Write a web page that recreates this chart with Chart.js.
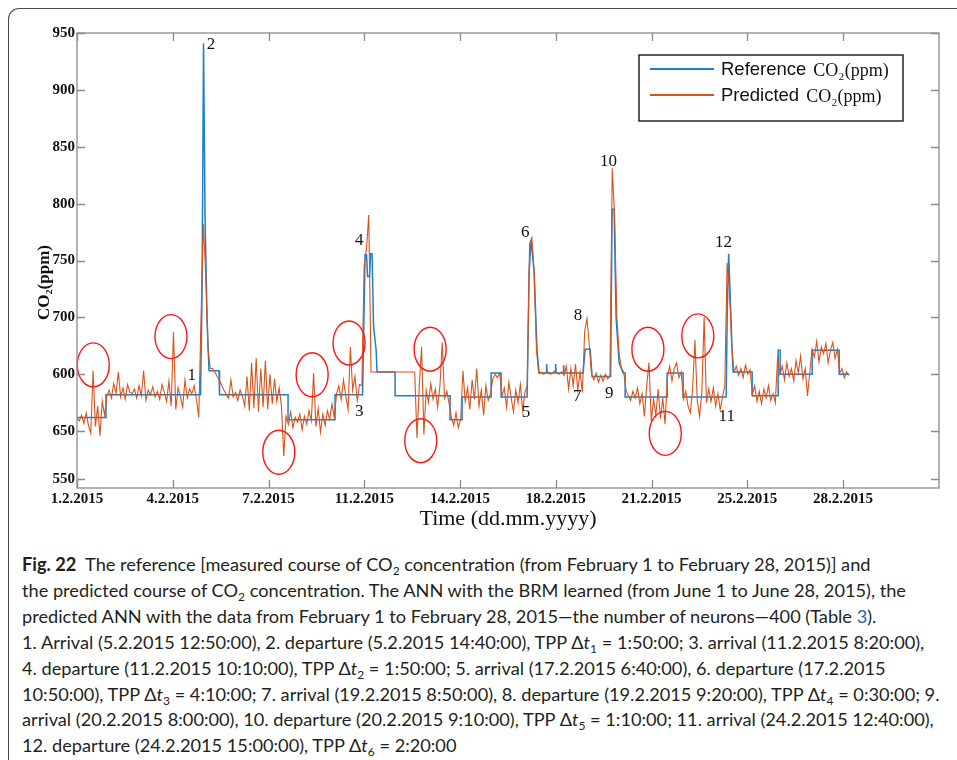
<!DOCTYPE html>
<html>
<head>
<meta charset="utf-8">
<script src="https://cdn.jsdelivr.net/npm/chart.js@4.4.1/dist/chart.umd.min.js"></script>
<style>
  html, body { margin: 0; padding: 0; background: #fff; }
  body { width: 957px; height: 760px; position: relative; overflow: hidden; }
  #frame {
    position: absolute; left: 8px; top: 8px; width: 1000px; height: 800px;
    border-left: 1.5px solid #4a4a4a; border-top: 1.5px solid #4a4a4a;
    border-top-left-radius: 11px;
  }
  #wrap { position: absolute; left: 0; top: 0; width: 957px; height: 540px; }
  #caption {
    position: absolute; left: 22px; top: 552px;
    font-family: Lato, "Open Sans", sans-serif; font-size: 18.2px; line-height: 25.9px;
    color: #231f20; white-space: nowrap;
  }
  #caption b { font-weight: 700; }
  #caption i { font-weight: 400; }
  #caption sub { font-size: 12px; line-height: 0; vertical-align: -4px; }
  #caption .ref { color: #1d64b4; }
</style>
</head>
<body>
<div id="frame"></div>
<div id="wrap"><canvas id="chart"></canvas></div>
<div id="caption">
<b>Fig. 22</b>&nbsp; The reference [measured course of CO<sub>2</sub> concentration (from February 1 to February 28, 2015)] and<br>
the predicted course of CO<sub>2</sub> concentration. The ANN with the BRM learned (from June 1 to June 28, 2015), the<br>
predicted ANN with the data from February 1 to February 28, 2015—the number of neurons—400 (Table <span class="ref">3</span>).<br>
1. Arrival (5.2.2015 12:50:00), 2. departure (5.2.2015 14:40:00), TPP Δ<i>t</i><sub>1</sub> = 1:50:00; 3. arrival (11.2.2015 8:20:00),<br>
4. departure (11.2.2015 10:10:00), TPP Δ<i>t</i><sub>2</sub> = 1:50:00; 5. arrival (17.2.2015 6:40:00), 6. departure (17.2.2015<br>
10:50:00), TPP Δ<i>t</i><sub>3</sub> = 4:10:00; 7. arrival (19.2.2015 8:50:00), 8. departure (19.2.2015 9:20:00), TPP Δ<i>t</i><sub>4</sub> = 0:30:00; 9.<br>
arrival (20.2.2015 8:00:00), 10. departure (20.2.2015 9:10:00), TPP Δ<i>t</i><sub>5</sub> = 1:10:00; 11. arrival (24.2.2015 12:40:00),<br>
12. departure (24.2.2015 15:00:00), TPP Δ<i>t</i><sub>6</sub> = 2:20:00
</div>
<script>
// time axis is in days since 1.2.2015 00:00
const xTickVals = [0, 3.474, 6.948, 10.422, 13.896, 17.37, 20.844, 24.318, 27.792];
const xTickText = ['1.2.2015', '4.2.2015', '7.2.2015', '11.2.2015', '14.2.2015', '18.2.2015', '21.2.2015', '25.2.2015', '28.2.2015'];
const xMax = 31.27;

// the printed figure has 600 and 650 swapped, kept as printed
const yTickVals = [558, 600, 650, 700, 750, 800, 850, 900, 950];
const yTickText = ['550', '650', '600', '700', '750', '800', '850', '900', '950'];

// reference CO2 (mostly steps), corner points
const refX = [0, 1.052, 1.052, 4.481, 4.536, 4.590, 4.644, 4.717, 4.790, 5.152, 5.171,
  7.656, 7.656, 9.361, 9.361, 10.359, 10.450, 10.504, 10.541, 10.613, 10.650, 10.704,
  10.758, 10.849, 10.885, 11.538, 11.538, 13.534, 13.534, 13.970, 13.970, 15.022, 15.022,
  15.385, 15.385, 16.328, 16.401, 16.473, 16.582, 16.691, 16.763, 17.017, 17.035, 17.054,
  17.344, 17.362, 17.380, 17.634, 17.652, 17.670, 18.360, 18.433, 18.614, 18.687, 19.358,
  19.412, 19.485, 19.557, 19.666, 19.811, 19.884, 19.884, 21.408, 21.408, 21.988, 21.988,
  23.549, 23.585, 23.639, 23.694, 23.766, 23.803, 24.492, 24.492, 25.435, 25.435, 25.508,
  25.508, 26.669, 26.669, 27.649, 27.649, 28.012];
const refY = [612, 612, 632, 632, 720, 941, 790, 700, 653, 653, 632,
  632, 610, 610, 632, 632, 755, 755, 736, 736, 756, 756,
  692, 672, 652, 652, 631, 631, 610, 610, 630, 630, 651,
  651, 630, 630, 740, 768, 740, 670, 651, 651, 659, 651,
  651, 659, 651, 651, 658, 651, 651, 672, 672, 648, 648,
  795, 795, 700, 660, 651, 651, 630, 630, 651, 651, 630,
  630, 700, 756, 720, 670, 652, 652, 631, 631, 671, 671,
  650, 650, 671, 671, 650, 650];

// predicted CO2, one value every 2 hours, one row per day
const predStep = 1 / 12;
const predY = [
  612, 609, 614, 607, 616, 605, 598, 653, 604, 622, 596, 626,
  614, 631, 636, 629, 642, 633, 652, 630, 638, 628, 641, 634,
  633, 637, 629, 640, 631, 653, 627, 636, 632, 639, 630, 635,
  628, 641, 634, 626, 644, 622, 687, 619, 638, 630, 621, 645,
  629, 637, 633, 640, 628, 612, 700, 782, 740, 672, 655, 655,
  652, 648, 645, 640, 636, 632, 629, 645, 630, 634, 627, 636,
  631, 622, 648, 618, 660, 620, 664, 617, 655, 621, 662, 619,
  650, 624, 646, 626, 638, 622, 578, 613, 606, 617, 603, 612,
  608, 615, 601, 613, 606, 618, 609, 651, 604, 620, 599, 615,
  605, 618, 610, 624, 612, 633, 640, 628, 645, 631, 619, 674,
  636, 648, 627, 641, 640, 745, 760, 790, 652, 652, 652, 652,
  652, 652, 652, 652, 652, 652, 652, 652, 652, 652, 652, 652,
  652, 652, 652, 652, 594, 640, 674, 597, 636, 625, 642, 628,
  637, 621, 640, 678, 629, 635, 624, 612, 605, 616, 603, 610,
  653, 626, 638, 619, 645, 628, 655, 622, 636, 614, 640, 627,
  633, 646, 650, 647, 651, 631, 638, 621, 643, 629, 617, 636,
  625, 641, 618, 634, 640, 765, 770, 740, 672, 651, 652, 650,
  651, 652, 650, 651, 653, 651, 650, 652, 649, 657, 637, 655,
  640, 659, 636, 652, 634, 688, 699, 676, 650, 645, 651, 643,
  649, 644, 650, 646, 648, 831, 790, 700, 668, 655, 652, 636,
  631, 627, 635, 629, 638, 624, 633, 613, 640, 660, 609, 628,
  614, 637, 611, 629, 606, 648, 657, 644, 655, 660, 647, 652,
  628, 635, 622, 616, 638, 680, 627, 613, 634, 700, 625, 637,
  626, 638, 622, 633, 619, 630, 640, 748, 725, 675, 652, 657,
  649, 655, 647, 658, 650, 654, 632, 640, 626, 635, 624, 637,
  629, 640, 627, 633, 625, 666, 650, 657, 645, 660, 648, 655,
  644, 662, 651, 666, 646, 655, 631, 652, 672, 665, 679, 661,
  674, 668, 677, 660, 671, 678, 664, 672, 651, 655, 647, 652,
  649
];

// numbered events (arrival / departure) as printed
const eventText = ['1', '2', '3', '4', '5', '6', '7', '8', '9', '10', '11', '12'];
const eventX = [4.16, 4.86, 10.24, 10.24, 16.29, 16.26, 18.15, 18.17, 19.31, 19.28, 23.57, 23.45];
const eventY = [648.6, 939.5, 617.3, 767.9, 616.5, 774.3, 630.2, 701.2, 633.1, 837.1, 612.6, 765.6];

// red circles round the outliers
const circleX = [0.59, 3.41, 7.32, 8.53, 9.87, 12.81, 12.47, 20.71, 21.34, 22.52];
const circleY = [658.2, 683.1, 581.4, 649.5, 677.5, 672.0, 591.6, 672.0, 598.0, 683.7];

const seriesNames = ['Reference', 'Predicted'];
const unitText = 'CO\u2082(ppm)';
const yTitle = 'CO\u2082(ppm)';
const xTitle = 'Time (dd.mm.yyyy)';

const blue = '#1f7fc9';
const orange = '#d9531a';
const serif = '"Liberation Serif", "Times New Roman", serif';
const sans = '"Liberation Sans", Arial, sans-serif';

const refData = refX.map((x, i) => ({ x: x, y: refY[i] }));
const predData = predY.map((v, i) => ({ x: i * predStep, y: v }));

// box with inward ticks, annotations, legend and y title
const figureExtras = {
    id: 'figureExtras',
    afterDatasetsDraw(chart) {
        const { ctx, chartArea: a, scales } = chart;
        const sx = scales.x;
        const sy = scales.y;
        ctx.save();

        ctx.strokeStyle = '#ff1414';
        ctx.lineWidth = 1.4;
        circleX.forEach((d, i) => {
            ctx.beginPath();
            ctx.ellipse(sx.getPixelForValue(d), sy.getPixelForValue(circleY[i]), 16, 22, 0, 0, Math.PI * 2);
            ctx.stroke();
        });

        ctx.fillStyle = '#111';
        ctx.font = '17px ' + serif;
        ctx.textAlign = 'center';
        ctx.textBaseline = 'middle';
        eventText.forEach((t, i) => {
            ctx.fillText(t, sx.getPixelForValue(eventX[i]), sy.getPixelForValue(eventY[i]));
        });

        // axes box
        ctx.strokeStyle = '#8a8a8a';
        ctx.lineWidth = 1.3;
        ctx.strokeRect(a.left, a.top, a.width, a.height);
        ctx.beginPath();
        sx.ticks.forEach((t) => {
            const px = Math.round(sx.getPixelForValue(t.value)) + 0.5;
            ctx.moveTo(px, a.bottom); ctx.lineTo(px, a.bottom - 8);
            ctx.moveTo(px, a.top); ctx.lineTo(px, a.top + 8);
        });
        sy.ticks.forEach((t) => {
            const py = Math.round(sy.getPixelForValue(t.value)) + 0.5;
            ctx.moveTo(a.left, py); ctx.lineTo(a.left + 8, py);
            ctx.moveTo(a.right, py); ctx.lineTo(a.right - 8, py);
        });
        ctx.stroke();

        // legend
        const lx = a.right - 300;
        const ly = a.top + 22;
        ctx.fillStyle = '#fff';
        ctx.fillRect(lx, ly, 264, 66);
        ctx.strokeStyle = '#262626';
        ctx.lineWidth = 1.5;
        ctx.strokeRect(lx, ly, 264, 66);
        chart.data.datasets.forEach((ds, i) => {
            const rowY = ly + 14 + i * 26;
            ctx.strokeStyle = ds.borderColor;
            ctx.lineWidth = 2;
            ctx.beginPath();
            ctx.moveTo(lx + 11, rowY);
            ctx.lineTo(lx + 75, rowY);
            ctx.stroke();
            ctx.fillStyle = '#111';
            ctx.textAlign = 'left';
            ctx.font = '18.5px ' + sans;
            ctx.fillText(ds.label, lx + 82, rowY + 1);
            const w = ctx.measureText(ds.label).width;
            ctx.font = '18px ' + serif;
            ctx.fillText(unitText, lx + 82 + w + 7, rowY + 2);
        });

        // y title, printed slightly below centre
        ctx.fillStyle = '#111';
        ctx.font = 'bold 17px ' + serif;
        ctx.textAlign = 'center';
        ctx.translate(45, (a.top + a.bottom) / 2 + 22);
        ctx.rotate(-Math.PI / 2);
        ctx.fillText(yTitle, 0, 0);

        ctx.restore();
    }
};

new Chart(document.getElementById('chart'), {
    type: 'line',
    data: {
        datasets: [
            {
                label: seriesNames[0],
                data: refData,
                borderColor: blue,
                borderWidth: 1.5,
                pointRadius: 0,
                tension: 0,
                order: 2,
            },
            {
                label: seriesNames[1],
                data: predData,
                borderColor: orange,
                borderWidth: 1.1,
                pointRadius: 0,
                tension: 0,
                order: 1,
            },
        ],
    },
    options: {
        responsive: true,
        maintainAspectRatio: false,
        animation: false,
        layout: { padding: { left: 0, right: 18, top: 33, bottom: 0 } },
        plugins: {
            legend: { display: false },
            tooltip: { enabled: false },
        },
        scales: {
            x: {
                type: 'linear',
                min: 0,
                max: xMax,
                grid: { display: false, drawTicks: false },
                border: { display: false },
                afterBuildTicks: (scale) => {
                    scale.ticks = xTickVals.map((v) => ({ value: v }));
                },
                afterFit: (scale) => { scale.height = 52; },
                ticks: {
                    autoSkip: false,
                    maxRotation: 0,
                    padding: 2,
                    color: '#111',
                    font: { family: serif, size: 15, weight: 'bold' },
                    callback: (value, index) => xTickText[index],
                },
                title: {
                    display: true,
                    text: xTitle,
                    color: '#111',
                    font: { family: serif, size: 22 },
                    padding: { top: 0, bottom: 8 },
                },
            },
            y: {
                min: 550,
                max: 950,
                grid: { display: false, drawTicks: false },
                border: { display: false },
                afterBuildTicks: (scale) => {
                    scale.ticks = yTickVals.map((v) => ({ value: v }));
                },
                afterFit: (scale) => { scale.width = 77; },
                ticks: {
                    padding: 2,
                    color: '#111',
                    font: { family: serif, size: 15, weight: 'bold' },
                    callback: (value, index) => yTickText[index],
                },
            },
        },
    },
    plugins: [figureExtras],
});
</script>
</body>
</html>
